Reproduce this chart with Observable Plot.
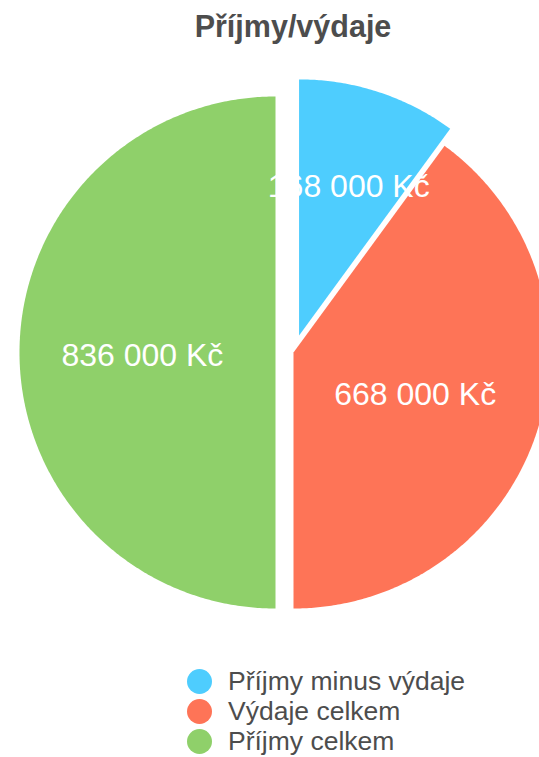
<!DOCTYPE html>
<html><head><meta charset="utf-8">
<script src="https://cdn.jsdelivr.net/npm/d3@7"></script>
<script src="https://cdn.jsdelivr.net/npm/@observablehq/plot@0.6"></script>
<style>
body{margin:0;background:#fff;font-family:"Liberation Sans",Arial,sans-serif;width:539px;height:757px;overflow:hidden;}
#title{box-sizing:border-box;height:60px;padding-top:9px;padding-left:47px;text-align:center;font-size:30.5px;font-weight:bold;line-height:34px;color:#4d4d4d;white-space:nowrap;}
#chart svg{display:block;}
#legend{margin-top:6px;}
.row{display:flex;align-items:center;height:30px;padding-left:187px;}
.sw{width:25px;height:25px;border-radius:50%;margin-right:16px;flex:none;}
.lb{font-size:26.5px;line-height:30px;color:#4d4d4d;white-space:nowrap;}
</style></head><body>
<div id="title">Příjmy/výdaje</div>
<div id="chart"></div>
<div id="legend"></div>
<script>
// data
const categories = ["Příjmy minus výdaje", "Výdaje celkem", "Příjmy celkem"];
const values = [168000, 668000, 836000];
const colors = ["#4ecdfe", "#fe7457", "#8fd06a"];

// layout (pixels relative to radius 256)
const R = 256;
const explode = [18 / R, 0, 18 / R];
const labelFrac = [0.625, 0.5, 0.52];

const data = categories.map((name, i) => ({name, value: values[i]}));
const arcs = d3.pie().sort(null).value(d => d.value)(data);

const pts = [];
const labels = [];
arcs.forEach((a, i) => {
  const mid = (a.startAngle + a.endAngle) / 2;
  const cx = explode[i] * Math.sin(mid), cy = explode[i] * Math.cos(mid);
  const name = a.data.name;
  pts.push({name, x: cx, y: cy});
  const n = Math.max(2, Math.ceil((a.endAngle - a.startAngle) * 180 / Math.PI * 2));
  for (let k = 0; k <= n; k++) {
    const t = a.startAngle + (a.endAngle - a.startAngle) * k / n;
    pts.push({name, x: cx + Math.sin(t), y: cy + Math.cos(t)});
  }
  pts.push({name, x: cx, y: cy});
  labels.push({
    name,
    x: cx + labelFrac[i] * Math.sin(mid),
    y: cy + labelFrac[i] * Math.cos(mid),
    text: String(a.data.value).replace(/\B(?=(\d{3})+(?!\d))/g, " ") + " Kč"
  });
});

const plot = Plot.plot({
  width: 539,
  height: 600,
  margin: 0,
  style: {fontFamily: "'Liberation Sans', Arial, sans-serif", background: "white"},
  x: {domain: [-293 / R, 246 / R], axis: null},
  y: {domain: [-308 / R, 292 / R], axis: null},
  color: {domain: categories, range: colors, legend: false},
  marks: [
    Plot.line(pts, {x: "x", y: "y", z: "name", fill: "name", stroke: "none", curve: "linear"}),
    Plot.text(labels, {x: "x", y: "y", text: "text", fill: "white", fontSize: 32, dy: 3, textAnchor: "middle"})
  ]
});
document.getElementById("chart").appendChild(plot);

const leg = document.getElementById("legend");
categories.forEach((c, i) => {
  const row = document.createElement("div");
  row.className = "row";
  const sw = document.createElement("span");
  sw.className = "sw";
  sw.style.background = plot.scale("color").apply(c);
  const lb = document.createElement("span");
  lb.className = "lb";
  lb.textContent = c;
  row.appendChild(sw); row.appendChild(lb);
  leg.appendChild(row);
});
</script>
</body></html>
